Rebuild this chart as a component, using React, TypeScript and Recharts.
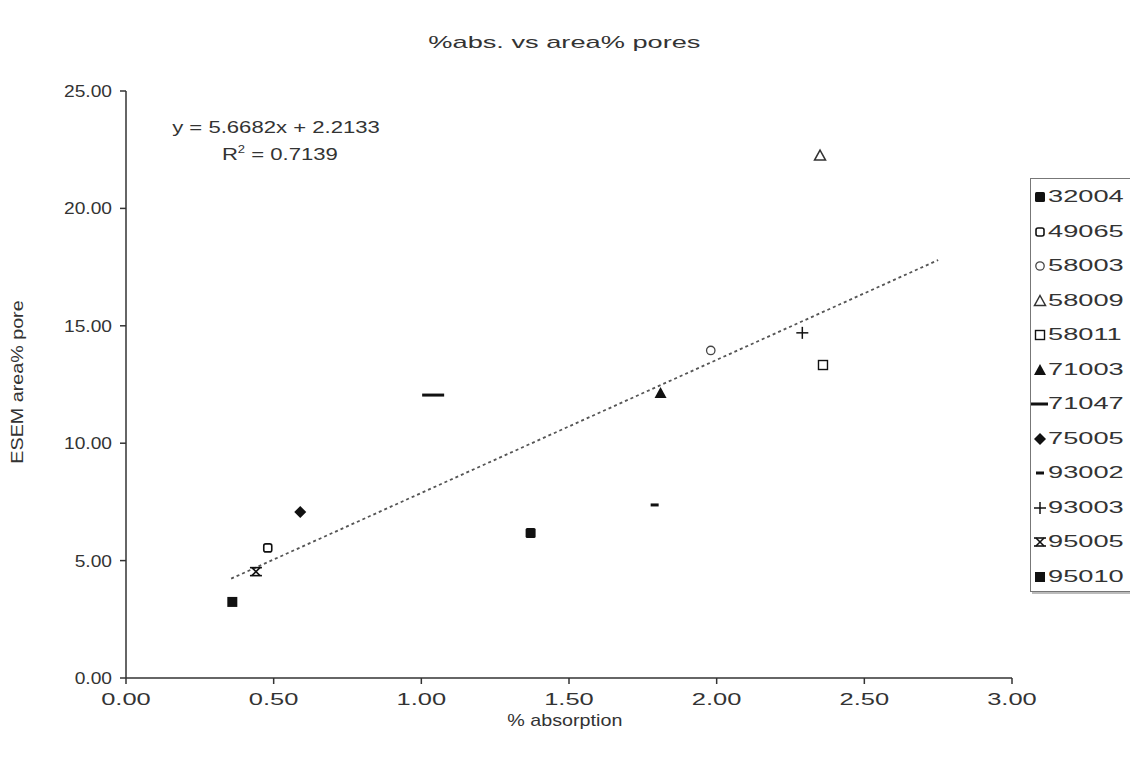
import {
  ComposedChart,
  Scatter,
  XAxis,
  YAxis,
  ReferenceLine,
} from 'recharts'

// sample ids, in legend order
const samples = [
  '32004', '49065', '58003', '58009', '58011', '71003',
  '71047', '75005', '93002', '93003', '95005', '95010',
]
const absorption = [1.37, 0.48, 1.98, 2.35, 2.36, 1.81, 1.04, 0.59, 1.79, 2.29, 0.44, 0.36]
const areaPore = [6.18, 5.54, 13.95, 22.25, 13.33, 12.14, 12.05, 7.07, 7.37, 14.7, 4.53, 3.24]
const markers = [
  'fsquare', 'osquare', 'ocircle', 'otri', 'osquare2', 'ftri',
  'dash', 'diamond', 'sdash', 'plus', 'star', 'fsquare2',
]
const xTicks = [0, 0.5, 1, 1.5, 2, 2.5, 3]
const yTicks = [0, 5, 10, 15, 20, 25]
const slope = 5.6682
const intercept = 2.2133
const trendX = [0.356, 2.75]

const INK = '#111'
const TXT = '#333'
const FONT = '"Liberation Sans", Arial, sans-serif'
const FS = 17

const Marker = ({ kind, cx, cy }: { kind: string; cx: number; cy: number }) => {
  switch (kind) {
    case 'fsquare':
      return <rect x={cx - 5} y={cy - 5} width={10} height={10} rx={1.5} fill={INK} />
    case 'fsquare2':
      return <rect x={cx - 5} y={cy - 5} width={10} height={10} fill={INK} />
    case 'osquare':
      return <rect x={cx - 4} y={cy - 4} width={8} height={8} rx={2} fill="none" stroke={INK} strokeWidth={1.6} />
    case 'osquare2':
      return <rect x={cx - 4.5} y={cy - 4.5} width={9} height={9} fill="none" stroke={INK} strokeWidth={1.4} />
    case 'ocircle':
      return <circle cx={cx} cy={cy} r={4.2} fill="none" stroke="#444" strokeWidth={1.3} />
    case 'otri':
      return <polygon points={`${cx},${cy - 5.5} ${cx + 5.5},${cy + 4.5} ${cx - 5.5},${cy + 4.5}`} fill="none" stroke="#333" strokeWidth={1.5} />
    case 'ftri':
      return <polygon points={`${cx},${cy - 6} ${cx + 6},${cy + 5} ${cx - 6},${cy + 5}`} fill={INK} />
    case 'dash':
      return <rect x={cx - 11} y={cy - 1.5} width={22} height={3} fill={INK} />
    case 'sdash':
      return <rect x={cx - 4} y={cy - 1.5} width={8} height={3} fill={INK} />
    case 'diamond':
      return <polygon points={`${cx},${cy - 6} ${cx + 6},${cy} ${cx},${cy + 6} ${cx - 6},${cy}`} fill={INK} />
    case 'plus':
      return (
        <g stroke={INK} strokeWidth={1.5}>
          <line x1={cx - 6} y1={cy} x2={cx + 6} y2={cy} />
          <line x1={cx} y1={cy - 6} x2={cx} y2={cy + 6} />
        </g>
      )
    case 'star':
      return (
        <g stroke={INK} strokeWidth={1.6}>
          <line x1={cx - 6} y1={cy - 4} x2={cx + 6} y2={cy - 4} />
          <line x1={cx - 6} y1={cy + 4} x2={cx + 6} y2={cy + 4} />
          <line x1={cx - 4} y1={cy - 4} x2={cx + 4} y2={cy + 4} />
          <line x1={cx + 4} y1={cy - 4} x2={cx - 4} y2={cy + 4} />
        </g>
      )
    default:
      return null
  }
}

// text in the original is wider than plain Arial, so stretch it horizontally
const XTick = ({ x, y, payload }: any) => (
  <text
    transform={`translate(${x},${y}) scale(1.5,1)`}
    textAnchor="middle"
    dy={15}
    fill={TXT}
    fontSize={FS}
    fontFamily={FONT}
  >
    {Number(payload.value).toFixed(2)}
  </text>
)

const YTick = ({ x, y, payload }: any) => (
  <text
    transform={`translate(${x + 2},${y}) scale(1.13,1)`}
    textAnchor="end"
    dy={6}
    fill={TXT}
    fontSize={FS}
    fontFamily={FONT}
  >
    {Number(payload.value).toFixed(2)}
  </text>
)

const LegendBox = () => (
  <div
    style={{
      position: 'absolute',
      left: 1030,
      top: 178,
      width: 110,
      height: 414,
      border: '1px solid #777',
      boxShadow: '2px 2px 0 #bbb',
      background: '#fff',
      fontFamily: FONT,
      fontSize: FS,
      color: TXT,
      boxSizing: 'border-box',
    }}
  >
    {samples.map((s, i) => (
      <div key={s} style={{ position: 'absolute', left: 0, top: 6 + i * 34.5, height: 24, display: 'flex', alignItems: 'center' }}>
        <svg width={17} height={24}>
          <Marker kind={markers[i]} cx={9} cy={12} />
        </svg>
        <span style={{ display: 'inline-block', transform: 'scaleX(1.6)', transformOrigin: 'left center' }}>{s}</span>
      </div>
    ))}
  </div>
)

const series = samples.map((s, i) => ({
  name: s,
  kind: markers[i],
  data: [{ x: absorption[i], y: areaPore[i] }],
}))

export default function App() {
  const trendSegment = trendX.map((x) => ({ x, y: slope * x + intercept }))
  return (
    <div style={{ position: 'absolute', left: 0, top: 0, width: 1130, height: 768, background: '#fff', fontFamily: FONT, overflow: 'hidden' }}>
      <div style={{ position: 'absolute', left: 0, width: 1130, top: 33, textAlign: 'center', fontSize: FS, color: TXT, transform: 'scaleX(1.6)', transformOrigin: '566px center' }}>
        %abs. vs area% pores
      </div>
      <ComposedChart
        width={1130}
        height={768}
        margin={{ top: 91, right: 118, bottom: 30, left: 0 }}
      >
        <XAxis
          type="number"
          dataKey="x"
          domain={[0, 3]}
          ticks={xTicks}
          height={60}
          allowDataOverflow
          stroke="#333"
          strokeWidth={1.5}
          tickSize={6}
          tickMargin={6}
          tick={<XTick />}
        />
        <YAxis
          type="number"
          dataKey="y"
          domain={[0, 25]}
          ticks={yTicks}
          width={126}
          allowDataOverflow
          stroke="#333"
          strokeWidth={1.5}
          tickSize={6}
          tickMargin={10}
          tick={<YTick />}
        />
        <ReferenceLine
          segment={trendSegment}
          stroke="#555"
          strokeWidth={1.8}
          strokeDasharray="3 3"
          ifOverflow="extendDomain"
        />
        {series.map((s) => (
          <Scatter
            key={s.name}
            name={s.name}
            data={s.data}
            isAnimationActive={false}
            shape={(p: any) => <Marker kind={s.kind} cx={p.cx} cy={p.cy} />}
          />
        ))}
      </ComposedChart>
      <div style={{ position: 'absolute', left: 0, width: 1130, top: 711, textAlign: 'center', fontSize: FS, color: TXT, transform: 'scaleX(1.16)', transformOrigin: '566px center' }}>
        % absorption
      </div>
      <div
        style={{
          position: 'absolute',
          left: 18 - 100,
          top: 382 - 12,
          width: 200,
          height: 24,
          lineHeight: '24px',
          textAlign: 'center',
          fontSize: FS,
          color: TXT,
          transform: 'rotate(-90deg) scaleX(1.16)',
          transformOrigin: 'center center',
        }}
      >
        ESEM area% pore
      </div>
      <div style={{ position: 'absolute', left: 126, width: 300, top: 114, textAlign: 'center', fontSize: FS, color: TXT, lineHeight: '27px', transform: 'scaleX(1.3)', transformOrigin: '150px center' }}>
        <div>y = 5.6682x + 2.2133</div>
        <div style={{ paddingLeft: 6 }}>
          R<sup style={{ fontSize: 10, lineHeight: 0 }}>2</sup> = 0.7139
        </div>
      </div>
      <LegendBox />
    </div>
  )
}
